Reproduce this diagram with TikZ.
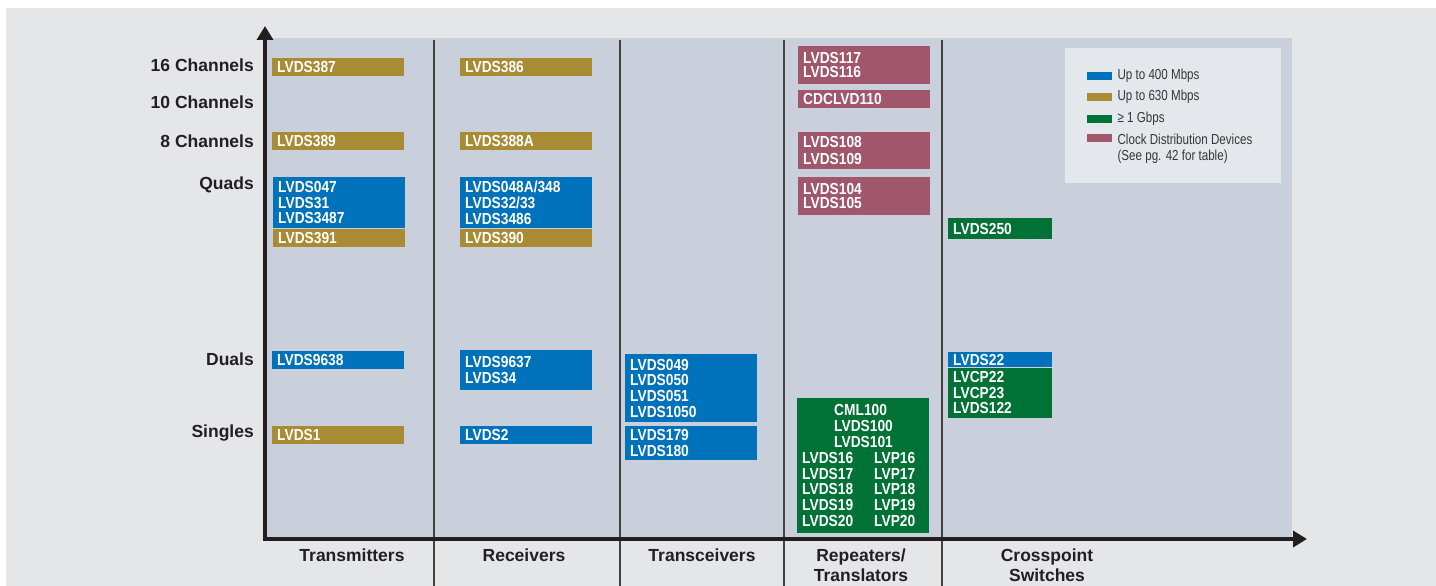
\documentclass[tikz,border=0pt]{standalone}
\usepackage{fontspec}
\setmainfont{Liberation Sans}
\newfontfamily\partfont[FakeStretch=0.86]{Liberation Sans}
\newfontfamily\legfont[FakeStretch=0.8]{Liberation Sans}
\usetikzlibrary{arrows.meta,positioning}

\definecolor{lvblue}{HTML}{0072BC}
\definecolor{lvgold}{HTML}{A88B32}
\definecolor{lvgreen}{HTML}{007236}
\definecolor{lvclock}{HTML}{A0566B}
\definecolor{plotbg}{HTML}{C9D0DB}
\definecolor{pagebg}{HTML}{E5E6E8}
\definecolor{legbg}{HTML}{E4E8EC}
\definecolor{ink}{HTML}{231F20}

\tikzset{
  part/.style={anchor=north west, fill=#1, text=white,
    font=\partfont\bfseries\fontsize{16}{15.8}\selectfont,
    align=left, text width=122pt, minimum height=18pt,
    inner xsep=5pt, inner ysep=0pt},
  rowlabel/.style={anchor=base east, text=ink, inner sep=0pt,
    font=\bfseries\fontsize{17.5}{20}\selectfont},
  colhead/.style={anchor=base, align=center, text=ink, inner sep=0pt,
    font=\bfseries\fontsize{17.5}{20}\selectfont},
  swatch/.style={anchor=north west, fill=#1, minimum width=25pt,
    minimum height=8pt, inner sep=0pt},
  legtext/.style={text=ink!90, inner sep=0pt,
    font=\legfont\fontsize{14.5}{16}\selectfont},
  axis/.style={draw=ink, line width=4pt,
    -{Triangle[width=16pt,length=14pt]}},
  divider/.style={draw=ink!85, line width=1.1pt}
}

\begin{document}
\begin{tikzpicture}[x=1pt,y=-1pt]
  \useasboundingbox (0,0) rectangle (1436,586);
  \fill[pagebg] (6,8) rectangle (1436,586);
  \fill[plotbg] (265,38) rectangle (1292,539);
  \fill[legbg] (1065,48) rectangle (1281,183);

  % column separators
  \foreach \x in {434,620,784,942}
    \draw[divider] (\x,40) -- (\x,586);

  % row labels
  \node[rowlabel] (r16) at (254,71) {16 Channels};
  \node[rowlabel] (r10) at (254,108) {10 Channels};
  \node[rowlabel] (r8) at (254,147) {8 Channels};
  \node[rowlabel] (rquad) at (254,189) {Quads};
  \node[rowlabel] (rdual) at (254,365) {Duals};
  \node[rowlabel] (rsingle) at (254,437) {Singles};

  % column labels (base = last line)
  \node[colhead] (ctx) at (352,561) {Transmitters};
  \node[colhead] (crx) at (524,561) {Receivers};
  \node[colhead] (ctr) at (702,561) {Transceivers};
  \node[colhead] (crep) at (861,581) {Repeaters/\\Translators};
  \node[colhead] (ccross) at (1047,581) {Crosspoint\\Switches};

  % transmitters
  \node[part=lvgold] (tx16) at (272,58) {LVDS387};
  \node[part=lvgold] (tx8) at (272,132) {LVDS389};
  \node[part=lvblue, minimum height=51pt] (txquad) at (273,177) {LVDS047\\LVDS31\\LVDS3487};
  \node[part=lvgold, below=0pt of txquad] (txquadb) {LVDS391};
  \node[part=lvblue] (txdual) at (272,351) {LVDS9638};
  \node[part=lvgold] (txsingle) at (272,426) {LVDS1};

  % receivers
  \node[part=lvgold] (rx16) at (460,58) {LVDS386};
  \node[part=lvgold] (rx8) at (460,132) {LVDS388A};
  \node[part=lvblue, minimum height=51pt] (rxquad) at (460,177) {LVDS048A/348\\LVDS32/33\\LVDS3486};
  \node[part=lvgold, below=0pt of rxquad] (rxquadb) {LVDS390};
  \node[part=lvblue, minimum height=40pt] (rxdual) at (460,350) {LVDS9637\\LVDS34};
  \node[part=lvblue] (rxsingle) at (460,426) {LVDS2};

  % transceivers
  \node[part=lvblue, minimum height=68pt] (trdual) at (625,354) {LVDS049\\LVDS050\\LVDS051\\LVDS1050};
  \node[part=lvblue, minimum height=34pt] (trsingle) at (625,426) {LVDS179\\LVDS180};

  % repeaters / translators
  \node[part=lvclock, minimum height=38pt] (rp16) at (798,46) {LVDS117\\[-2pt]LVDS116};
  \node[part=lvclock] (rp10) at (798,90) {CDCLVD110};
  \node[part=lvclock, minimum height=37pt] (rp8) at (798,132) {LVDS108\\[1.5pt]LVDS109};
  \node[part=lvclock, minimum height=38pt] (rpquad) at (798,177) {LVDS104\\[-2pt]LVDS105};
  \node[part=lvgreen, minimum height=135pt] (rpsingle) at (797,398)
    {\hspace*{32pt}CML100\\\hspace*{32pt}LVDS100\\\hspace*{32pt}LVDS101\\
     \makebox[72pt][l]{LVDS16}LVP16\\\makebox[72pt][l]{LVDS17}LVP17\\
     \makebox[72pt][l]{LVDS18}LVP18\\\makebox[72pt][l]{LVDS19}LVP19\\
     \makebox[72pt][l]{LVDS20}LVP20};

  % crosspoint switches
  \node[part=lvgreen, text width=94pt, minimum height=21pt] (xquad) at (948,218) {LVDS250};
  \node[part=lvblue, text width=94pt, minimum height=15pt] (xdual) at (948,352) {LVDS22};
  \node[part=lvgreen, text width=94pt, minimum height=50pt, below=0pt of xdual] (xdualb)
    {LVCP22\\[-0.5pt]LVCP23\\[-0.5pt]LVDS122};

  % legend
  \node[swatch=lvblue] (sw400) at (1087,72) {};
  \node[swatch=lvgold] (sw630) at (1087,93) {};
  \node[swatch=lvgreen] (swgig) at (1087,115) {};
  \node[swatch=lvclock] (swclock) at (1087,134) {};
  \node[legtext, right=5pt of sw400] (l400) {Up to 400 Mbps};
  \node[legtext, right=5pt of sw630] (l630) {Up to 630 Mbps};
  \node[legtext, right=5pt of swgig] (lgig) {≥ 1 Gbps};
  \node[legtext, align=left, anchor=north west] (lclock) at ([xshift=5pt]swclock.north east)
    {Clock Distribution Devices\\(See pg. 42 for table)};

  % axes
  \coordinate (origin) at (265,539);
  \coordinate (ytop) at (265,26);
  \coordinate (xend) at (1307,539);
  \coordinate (ybot) at (265,541);
  \draw[axis] (ybot) -- (ytop);
  \draw[axis] ([xshift=-2pt]origin) -- (xend);
\end{tikzpicture}
\end{document}
